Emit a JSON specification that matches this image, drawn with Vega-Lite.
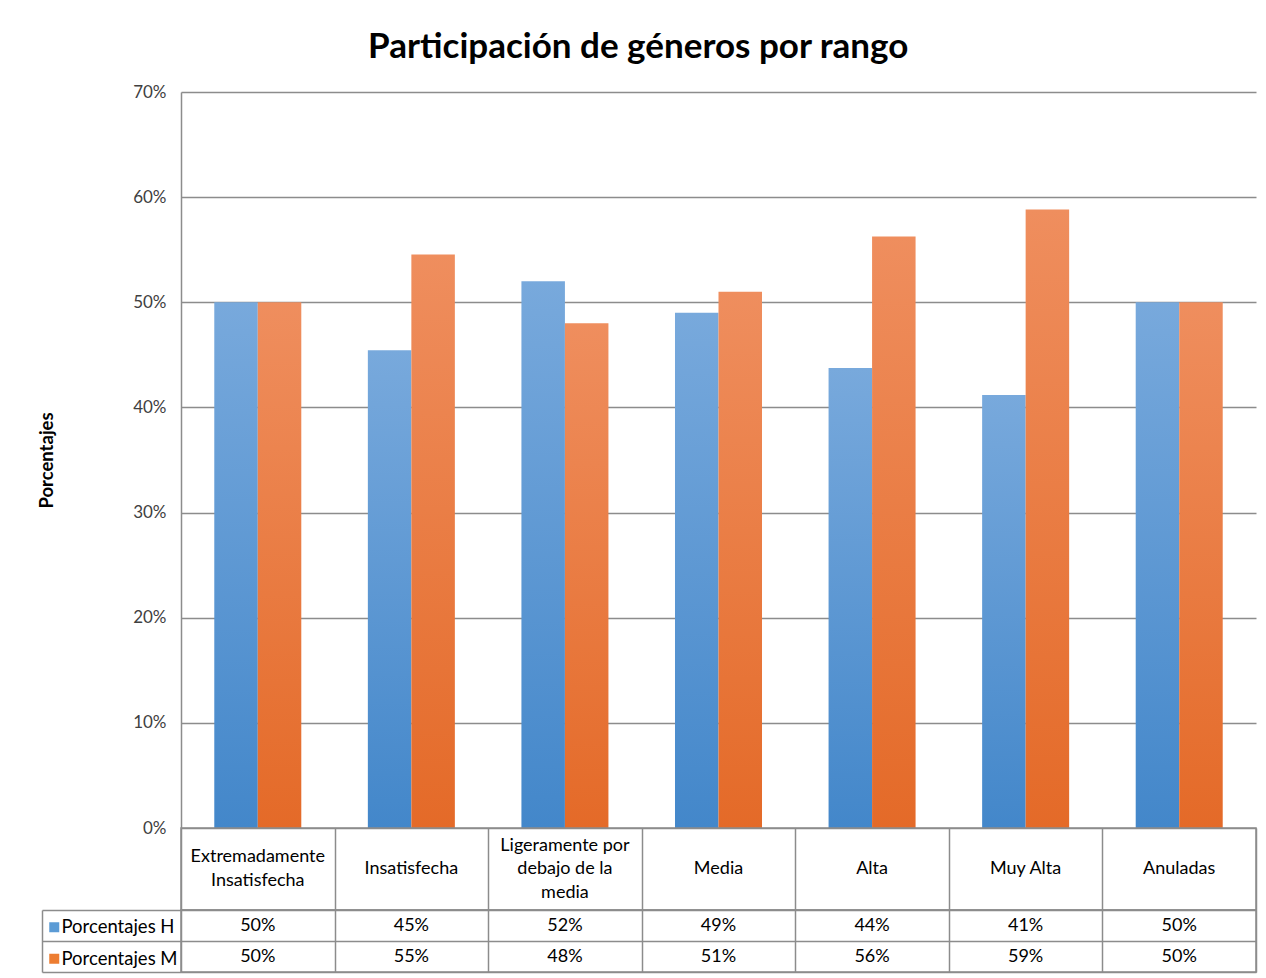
{
  "$schema": "https://vega.github.io/schema/vega-lite/v6.json",
  "background": "white",
  "padding": {"left": 37, "top": 30, "right": 10, "bottom": 3},
  "spacing": 0,
  "bounds": "flush",
  "title": {
    "text": "Participación de géneros por rango",
    "font": "Lato",
    "fontSize": 35,
    "fontWeight": "bold",
    "color": "#000000",
    "anchor": "middle",
    "baseline": "alphabetic",
    "dx": -9,
    "offset": -10
  },
  "datasets": {
    "main": [
      {"rango": "Extremadamente\nInsatisfecha", "serie": "Porcentajes H", "valor": 0.5},
      {"rango": "Extremadamente\nInsatisfecha", "serie": "Porcentajes M", "valor": 0.5},
      {"rango": "Insatisfecha", "serie": "Porcentajes H", "valor": 0.4545},
      {"rango": "Insatisfecha", "serie": "Porcentajes M", "valor": 0.5455},
      {"rango": "Ligeramente por\ndebajo de la\nmedia", "serie": "Porcentajes H", "valor": 0.52},
      {"rango": "Ligeramente por\ndebajo de la\nmedia", "serie": "Porcentajes M", "valor": 0.48},
      {"rango": "Media", "serie": "Porcentajes H", "valor": 0.49},
      {"rango": "Media", "serie": "Porcentajes M", "valor": 0.51},
      {"rango": "Alta", "serie": "Porcentajes H", "valor": 0.4375},
      {"rango": "Alta", "serie": "Porcentajes M", "valor": 0.5625},
      {"rango": "Muy Alta", "serie": "Porcentajes H", "valor": 0.4118},
      {"rango": "Muy Alta", "serie": "Porcentajes M", "valor": 0.5882},
      {"rango": "Anuladas", "serie": "Porcentajes H", "valor": 0.5},
      {"rango": "Anuladas", "serie": "Porcentajes M", "valor": 0.5}
    ],
    "cats": [
      {"rango": "Extremadamente\nInsatisfecha"},
      {"rango": "Insatisfecha"},
      {"rango": "Ligeramente por\ndebajo de la\nmedia"},
      {"rango": "Media"},
      {"rango": "Alta"},
      {"rango": "Muy Alta"},
      {"rango": "Anuladas"}
    ]
  },
  "vconcat": [
    {
      "width": 1075,
      "height": 736,
      "view": {"stroke": null},
      "data": {"name": "main"},
      "encoding": {
        "x": {
          "field": "rango",
          "type": "nominal",
          "sort": ["Extremadamente\nInsatisfecha", "Insatisfecha", "Ligeramente por\ndebajo de la\nmedia", "Media", "Alta", "Muy Alta", "Anuladas"],
          "scale": {"paddingInner": 0, "paddingOuter": 0},
          "axis": null
        },
        "xOffset": {
          "field": "serie",
          "type": "nominal",
          "scale": {"domain": ["Porcentajes H", "Porcentajes M"], "paddingInner": 0, "paddingOuter": 0.765}
        },
        "y": {
          "field": "valor",
          "type": "quantitative",
          "scale": {"domain": [0, 0.7], "nice": false},
          "axis": {
            "format": ".0%",
            "values": [0, 0.1, 0.2, 0.3, 0.4, 0.5, 0.6, 0.7],
            "labelOverlap": false,
            "title": "Porcentajes",
            "titleFont": "Lato",
            "titleFontSize": 18.5,
            "titleFontWeight": "bold",
            "titleColor": "#000000",
            "titlePadding": 76,
            "labelFont": "Lato",
            "labelFontSize": 17,
            "labelColor": "#404040",
            "labelPadding": 15,
            "ticks": false,
            "domain": true,
            "domainColor": "#8c8c8c",
            "domainWidth": 1.5,
            "grid": true,
            "gridColor": "#8c8c8c",
            "gridWidth": 1.5
          }
        }
      },
      "layer": [
        {
          "transform": [{"filter": "datum.serie === 'Porcentajes H'"}],
          "mark": {
            "type": "bar",
            "fill": {"gradient": "linear", "x1": 0, "y1": 0, "x2": 0, "y2": 1, "stops": [{"offset": 0, "color": "#78a9dc"}, {"offset": 1, "color": "#4387ca"}]}
          }
        },
        {
          "transform": [{"filter": "datum.serie === 'Porcentajes M'"}],
          "mark": {
            "type": "bar",
            "fill": {"gradient": "linear", "x1": 0, "y1": 0, "x2": 0, "y2": 1, "stops": [{"offset": 0, "color": "#ef8e5e"}, {"offset": 1, "color": "#e46a28"}]}
          }
        },
        {
          "mark": {"type": "point", "opacity": 0, "filled": true, "shape": "square"},
          "encoding": {
            "color": {
              "field": "serie",
              "type": "nominal",
              "scale": {"domain": ["Porcentajes H", "Porcentajes M"], "range": ["#5b9bd5", "#ed7d31"]},
              "legend": {
                "orient": "none",
                "legendX": -136,
                "legendY": 826,
                "title": null,
                "symbolType": "square",
                "symbolSize": 100,
                "symbolOpacity": 1,
                "symbolStrokeWidth": 0,
                "labelFont": "Lato",
                "labelFontSize": 18.5,
                "labelColor": "#000000",
                "labelOffset": -2,
                "rowPadding": 12.5
              }
            }
          }
        }
      ]
    },
    {
      "width": 1075,
      "height": 82,
      "view": {"stroke": "#8c8c8c", "strokeWidth": 1.5},
      "data": {"name": "cats"},
      "encoding": {
        "x": {
          "field": "rango",
          "type": "nominal",
          "sort": ["Extremadamente\nInsatisfecha", "Insatisfecha", "Ligeramente por\ndebajo de la\nmedia", "Media", "Alta", "Muy Alta", "Anuladas"],
          "scale": {"paddingInner": 0, "paddingOuter": 0},
          "axis": {"title": null, "labels": false, "ticks": false, "domain": false, "grid": true, "tickBand": "extent", "gridColor": "#8c8c8c", "gridWidth": 1.5}
        },
        "text": {"field": "rango"}
      },
      "layer": [
        {
          "transform": [{"filter": "length(split(datum.rango, '\\n')) === 1"}],
          "mark": {"type": "text", "lineBreak": "\n", "font": "Lato", "fontSize": 18, "lineHeight": 23.5, "color": "#000000", "baseline": "middle", "dy": 0}
        },
        {
          "transform": [{"filter": "length(split(datum.rango, '\\n')) === 2"}],
          "mark": {"type": "text", "lineBreak": "\n", "font": "Lato", "fontSize": 18, "lineHeight": 23.5, "color": "#000000", "baseline": "middle", "dy": -11.75}
        },
        {
          "transform": [{"filter": "length(split(datum.rango, '\\n')) === 3"}],
          "mark": {"type": "text", "lineBreak": "\n", "font": "Lato", "fontSize": 18, "lineHeight": 23.5, "color": "#000000", "baseline": "middle", "dy": -23.5}
        }
      ]
    },
    {
      "width": 1075,
      "height": 62,
      "view": {"stroke": "#8c8c8c", "strokeWidth": 1.5},
      "data": {"name": "main"},
      "mark": {"type": "text", "font": "Lato", "fontSize": 18, "color": "#000000", "baseline": "middle"},
      "encoding": {
        "x": {
          "field": "rango",
          "type": "nominal",
          "sort": ["Extremadamente\nInsatisfecha", "Insatisfecha", "Ligeramente por\ndebajo de la\nmedia", "Media", "Alta", "Muy Alta", "Anuladas"],
          "scale": {"paddingInner": 0, "paddingOuter": 0},
          "axis": {"title": null, "labels": false, "ticks": false, "domain": false, "grid": true, "tickBand": "extent", "gridColor": "#8c8c8c", "gridWidth": 1.5}
        },
        "y": {
          "field": "serie",
          "type": "nominal",
          "scale": {"domain": ["Porcentajes H", "Porcentajes M"], "paddingInner": 0, "paddingOuter": 0},
          "axis": {"title": null, "labels": false, "ticks": true, "tickSize": -139, "tickBand": "extent", "offset": 139, "domain": true, "domainColor": "#8c8c8c", "domainWidth": 1.5, "tickColor": "#8c8c8c", "tickWidth": 1.5, "grid": true, "gridColor": "#8c8c8c", "gridWidth": 1.5}
        },
        "text": {"field": "valor", "type": "quantitative", "format": ".0%"}
      }
    }
  ]
}
